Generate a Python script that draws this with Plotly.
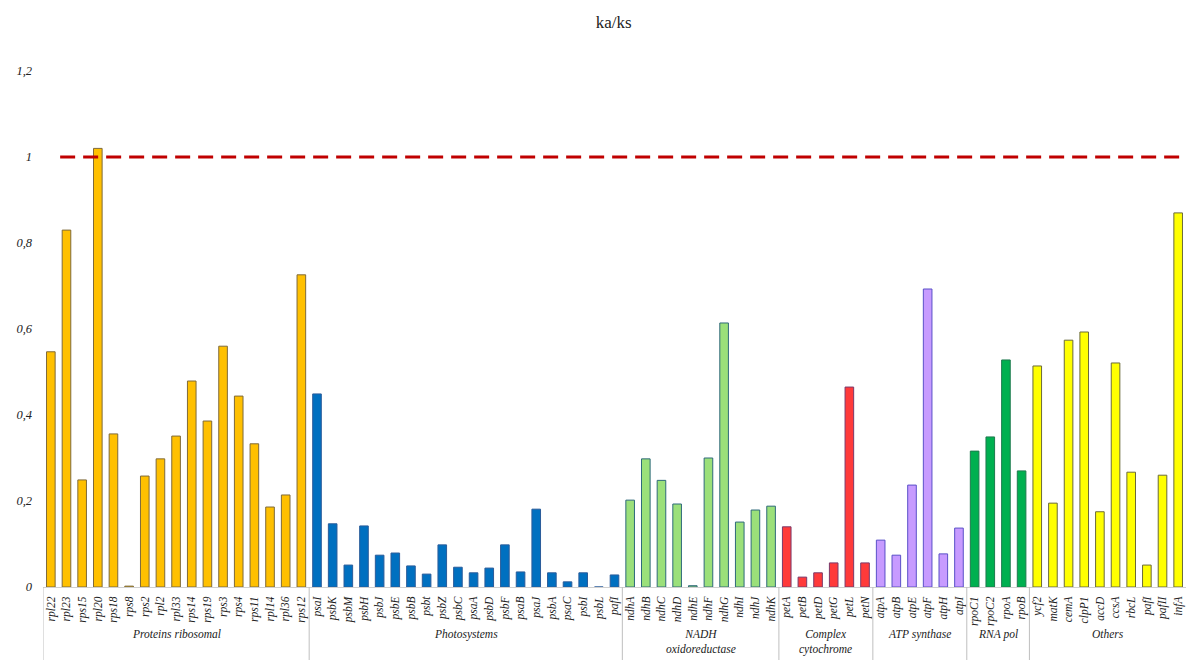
import plotly.graph_objects as go

# Gene groups, gene names and ka/ks ratios
groups = ["Proteins ribosomal", "Photosystems", "NADH<br>oxidoreductase",
          "Complex<br>cytochrome", "ATP synthase", "RNA pol", "Others"]

ribosomal_genes = ["rpl22", "rpl23", "rps15", "rpl20", "rps18", "rps8", "rps2", "rpl2", "rpl33",
                   "rps14", "rps19", "rps3", "rps4", "rps11", "rpl14", "rpl36", "rps12"]
ribosomal_vals = [0.547, 0.830, 0.249, 1.020, 0.356, 0.002, 0.258, 0.298, 0.351,
                  0.479, 0.386, 0.560, 0.444, 0.333, 0.186, 0.214, 0.726]

photosystem_genes = ["psaI", "psbK", "psbM", "psbH", "psbJ", "psbE", "psbB", "psbt", "psbZ", "psbC",
                     "psaA", "psbD", "psbF", "psaB", "psaJ", "psbA", "psaC", "psbI", "psbL", "pafI"]
photosystem_vals = [0.449, 0.147, 0.051, 0.142, 0.074, 0.079, 0.049, 0.030, 0.098, 0.046,
                    0.033, 0.044, 0.098, 0.035, 0.181, 0.033, 0.012, 0.033, 0.0, 0.028]

ndh_genes = ["ndhA", "ndhB", "ndhC", "ndhD", "ndhE", "ndhF", "ndhG", "ndhI", "ndhJ", "ndhK"]
ndh_vals = [0.202, 0.298, 0.248, 0.193, 0.003, 0.300, 0.614, 0.151, 0.179, 0.188]

pet_genes = ["petA", "petB", "petD", "petG", "petL", "petN"]
pet_vals = [0.140, 0.023, 0.033, 0.056, 0.465, 0.056]

atp_genes = ["atpA", "atpB", "atpE", "atpF", "atpH", "atpI"]
atp_vals = [0.109, 0.074, 0.237, 0.693, 0.077, 0.137]

rpo_genes = ["rpoC1", "rpoC2", "rpoA", "rpoB"]
rpo_vals = [0.316, 0.349, 0.528, 0.270]

other_genes = ["ycf2", "matK", "cemA", "clpP1", "accD", "ccsA", "rbcL", "pafI", "pafII", "infA"]
other_vals = [0.514, 0.195, 0.574, 0.593, 0.175, 0.521, 0.267, 0.051, 0.260, 0.870]

threshold = 1.0

gene_lists = [ribosomal_genes, photosystem_genes, ndh_genes, pet_genes, atp_genes, rpo_genes, other_genes]
value_lists = [ribosomal_vals, photosystem_vals, ndh_vals, pet_vals, atp_vals, rpo_vals, other_vals]
fills = ["#FFC000", "#0070C0", "#9BE07A", "#FF3A3A", "#C79BFF", "#00B050", "#FFFF00"]
edges = ["#7F6A3A", "#2A5C9A", "#2F6A7A", "#7A3A6A", "#5A50C8", "#1E7A4E", "#6A6A3A"]

serif = "Liberation Serif"
fig = go.Figure()

all_genes = []
bounds = []
start = 0
for genes, vals, fc, ec in zip(gene_lists, value_lists, fills, edges):
    xs = list(range(start, start + len(genes)))
    fig.add_trace(go.Bar(
        x=xs, y=vals, width=0.55,
        marker=dict(color=fc, line=dict(color=ec, width=1)),
        showlegend=False,
    ))
    all_genes += genes
    bounds.append((start, start + len(genes)))
    start += len(genes)

n = len(all_genes)

# Threshold line at ka/ks = 1
fig.add_shape(type="line", xref="paper", yref="y", x0=0.015, x1=1, y0=threshold, y1=threshold,
              line=dict(color="#C00000", width=3, dash="15px,8px"))

# Group separators and labels beneath the gene names
shapes_y1 = -0.16
for i, (a, b) in enumerate(bounds):
    fig.add_shape(type="line", xref="x", yref="paper", x0=a - 0.5, x1=a - 0.5, y0=0, y1=shapes_y1,
                  line=dict(color="#BFBFBF", width=1))
    fig.add_annotation(x=(a + b - 1) / 2, y=-0.076, xref="x", yref="paper",
                       text=groups[i], showarrow=False, yanchor="top",
                       font=dict(family=serif, size=11.5, color="#222222", style="italic"))

fig.update_layout(
    width=1187, height=660,
    margin=dict(l=43, r=1, t=71, b=73),
    paper_bgcolor="white", plot_bgcolor="white",
    separators=", ",
    bargap=0.45,
    title=dict(text="ka/ks", x=0.517, xanchor="center", y=0.967, yanchor="middle",
               font=dict(family=serif, size=17, color="#222222")),
    xaxis=dict(
        range=[-0.5, n - 0.5],
        tickmode="array", tickvals=list(range(n)), ticktext=all_genes,
        tickangle=-90, showgrid=False, zeroline=False,
        showline=True, linecolor="#D0D0D0", linewidth=1,
        ticks="", ticklabelstandoff=4,
        tickfont=dict(family=serif, size=11.5, color="#222222", style="italic"),
    ),
    yaxis=dict(
        range=[0, 1.2], tickvals=[0, 0.2, 0.4, 0.6, 0.8, 1.0, 1.2],
        showgrid=False, zeroline=False, showline=False,
        ticks="", ticklabelstandoff=10,
        tickfont=dict(family=serif, size=12.5, color="#222222", style="italic"),
    ),
)

fig.write_html("out.html")
